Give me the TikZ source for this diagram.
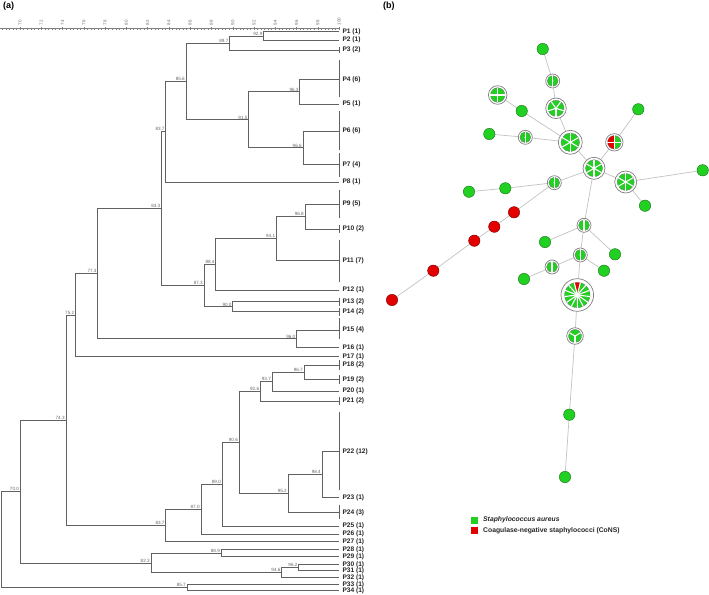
\documentclass[tikz,border=0pt]{standalone}
\usepackage{fontspec}
\setmainfont{Liberation Sans}
\usetikzlibrary{calc,backgrounds}
\definecolor{sagreen}{RGB}{34,208,34}
\definecolor{sared}{RGB}{226,0,0}
\definecolor{egrey}{RGB}{195,195,195}
\tikzset{
 dline/.style={draw=black!62, line width=0.55pt},
 axisline/.style={draw=black!50, line width=0.4pt},
 leaflab/.style={anchor=west, inner sep=0, font=\fontsize{6.6}{7}\selectfont\bfseries, text=black!85},
 vlab/.style={anchor=south east, inner sep=0.4pt, xshift=-0.6pt, font=\fontsize{4.6}{5}\selectfont, text=black!60},
 ticklab/.style={rotate=90, anchor=west, inner sep=0, font=\fontsize{4.5}{5}\selectfont, text=black!55},
 panellab/.style={anchor=north west, inner sep=0, font=\fontsize{9}{10}\selectfont\bfseries},
 gdot/.style={circle, fill=sagreen, draw=sagreen!55!black, line width=0.4pt, minimum size=11.4pt, inner sep=0},
 rdot/.style={circle, fill=sared, draw=sared!55!black, line width=0.4pt, minimum size=11.4pt, inner sep=0},
 pieouter/.style={circle, fill=white, draw=black!50, line width=0.7pt, inner sep=0},
 edgeline/.style={draw=egrey, line width=0.7pt},
 legsq/.style={minimum size=7pt, inner sep=0},
 legtxt/.style={anchor=west, inner sep=0, font=\fontsize{6.8}{7}\selectfont\bfseries, text=black!85},
}
\newcommand\pleaf[3]{\coordinate (L#1) at (339,#2); \node[leaflab] (t#1) at (342.3,#2) {P#1 (#3)};}
\newcommand\grpbar[2]{\draw[dline] (339,#1) -- (339,#2);}
\newcommand\pjoin[5]{%
 \coordinate (m#1) at ($(#3)!0.5!(#4)$);
 \coordinate (x#1) at ({339-(100-#2)*10.63},0);
 \coordinate (#1) at (x#1 |- m#1);
 \draw[dline] (#3) -- (#3 -| #1) -- (#4 -| #1) -- (#4);
 \node[vlab] (v#1) at (#1) {#5};}
\newcommand\pienode[7]{%
 \node[pieouter, minimum size=#4*2pt] (#1) at (#2,#3) {};
 \foreach \k in {1,...,#5}{%
   \pgfmathsetmacro\aa{#7+(\k-1)*360/#5}%
   \pgfmathsetmacro\ab{#7+\k*360/#5}%
   \ifnum\k>#6 \def\pc{sagreen}\else\def\pc{sared}\fi
   \filldraw[fill=\pc, draw=black!55, line width=0.3pt] (#2,#3) -- ++(\aa:#4*0.78) arc[start angle=\aa, end angle=\ab, radius=#4*0.78] -- cycle;
 }
 \foreach \k in {1,...,#5}{\draw[white, line width=1.1pt] (#2,#3) -- ++({#7+(\k-1)*360/#5}:#4*0.8);}
 \fill[white] (#2,#3) circle[radius=#4*0.12];
}
\begin{document}
\begin{tikzpicture}[x=1pt,y=-1pt]
\useasboundingbox (0,0) rectangle (709,594);
% ---------- panel (a) ----------
\node[panellab] (pa) at (3,1.5) {(a)};
\draw[axisline] (0,28.3) -- (339,28.3);
\foreach \k in {-5,...,90}{\draw[axisline] ({339-(30-\k/3)*10.63},28.3) -- ++(0,1.4);}
\foreach \v in {70,72,...,100}{%
  \draw[axisline] ({339-(100-\v)*10.63},26.9) -- ++(0,3);
  \node[ticklab] (tk\v) at ({339-(100-\v)*10.63},25.3) {\v};}
\pleaf{1}{31.7}{1}
\pleaf{2}{40}{1}
\pleaf{3}{50}{2}
\pleaf{4}{79.3}{6}
\pleaf{5}{104}{1}
\pleaf{6}{131}{6}
\pleaf{7}{164.3}{4}
\pleaf{8}{182}{1}
\pleaf{9}{204}{5}
\pleaf{10}{229}{2}
\pleaf{11}{260.7}{7}
\pleaf{12}{290}{1}
\pleaf{13}{301.7}{2}
\pleaf{14}{311.7}{2}
\pleaf{15}{330}{4}
\pleaf{16}{347.3}{1}
\pleaf{17}{356.7}{1}
\pleaf{18}{365}{2}
\pleaf{19}{379.3}{2}
\pleaf{20}{391}{1}
\pleaf{21}{401}{2}
\pleaf{22}{451.7}{12}
\pleaf{23}{497.3}{1}
\pleaf{24}{512.3}{3}
\pleaf{25}{526}{1}
\pleaf{26}{534}{1}
\pleaf{27}{541.7}{1}
\pleaf{28}{549.3}{1}
\pleaf{29}{556.7}{1}
\pleaf{30}{564.3}{1}
\pleaf{31}{570.7}{1}
\pleaf{32}{577.7}{1}
\pleaf{33}{584.3}{1}
\pleaf{34}{590.7}{1}
\grpbar{46.7}{53.3}
\grpbar{60}{96.7}
\grpbar{111}{150}
\grpbar{153}{176.7}
\grpbar{190}{218}
\grpbar{225}{232.7}
\grpbar{240}{281.7}
\grpbar{297.5}{305.5}
\grpbar{307.5}{315.5}
\grpbar{318}{339}
\grpbar{360}{370}
\grpbar{375}{383.5}
\grpbar{396.7}{405}
\grpbar{411.7}{490}
\grpbar{505}{519}
\pjoin{j929}{92.9}{L1}{L2}{92.9}
\pjoin{j897}{89.7}{j929}{L3}{89.7}
\pjoin{j963}{96.3}{L4}{L5}{96.3}
\pjoin{j966}{96.6}{L6}{L7}{96.6}
\pjoin{j915}{91.5}{j963}{j966}{91.5}
\pjoin{j856}{85.6}{j897}{j915}{85.6}
\pjoin{j837a}{83.7}{j856}{L8}{83.7}
\pjoin{j968}{96.8}{L9}{L10}{96.8}
\pjoin{j941}{94.1}{j968}{L11}{94.1}
\pjoin{j884}{88.4}{j941}{L12}{88.4}
\pjoin{j900}{90.0}{L13}{L14}{90.0}
\pjoin{j873}{87.3}{j884}{j900}{87.3}
\pjoin{j833}{83.3}{j837a}{j873}{83.3}
\pjoin{j960}{96.0}{L15}{L16}{96.0}
\pjoin{j773}{77.3}{j833}{j960}{77.3}
\pjoin{j752}{75.2}{j773}{L17}{75.2}
\pjoin{j967}{96.7}{L18}{L19}{96.7}
\pjoin{j937}{93.7}{j967}{L20}{93.7}
\pjoin{j926}{92.6}{j937}{L21}{92.6}
\pjoin{j984}{98.4}{L22}{L23}{98.4}
\pjoin{j952}{95.2}{j984}{L24}{95.2}
\pjoin{j906}{90.6}{j926}{j952}{90.6}
\pjoin{j890}{89.0}{j906}{L25}{89.0}
\pjoin{j870}{87.0}{j890}{L26}{87.0}
\pjoin{j837b}{83.7}{j870}{L27}{83.7}
\pjoin{j743}{74.3}{j752}{j837b}{74.3}
\pjoin{j889}{88.9}{L28}{L29}{88.9}
\pjoin{j962}{96.2}{L30}{L31}{96.2}
\pjoin{j946}{94.6}{j962}{L32}{94.6}
\pjoin{j823}{82.3}{j889}{j946}{82.3}
\pjoin{j700}{70.0}{j743}{j823}{70.0}
\pjoin{j857}{85.7}{L33}{L34}{85.7}
\pjoin{jroot}{68.2}{j700}{j857}{}
% ---------- panel (b) ----------
\node[panellab] (pb) at (383,1.5) {(b)};
\node[gdot] (g1) at (542.7,49) {};
\pienode{pA}{552.7}{81}{7}{2}{0}{90}
\pienode{pB}{556}{108.3}{10.3}{5}{0}{90}
\pienode{pC}{497.7}{95}{9.3}{4}{0}{0}
\node[gdot] (g2) at (521.7,111) {};
\node[gdot] (g3) at (638.3,109.3) {};
\node[gdot] (g4) at (489.3,134) {};
\pienode{pD}{525.3}{137.3}{7}{2}{0}{90}
\pienode{pE}{570.3}{142.3}{12}{6}{0}{90}
\pienode{pF}{614.3}{142.3}{8.7}{4}{2}{90}
\pienode{hub}{594}{168.3}{11}{6}{0}{90}
\pienode{pG}{625.7}{182}{11}{6}{0}{90}
\node[gdot] (g5) at (702.7,170.3) {};
\node[gdot] (g6) at (469,191.7) {};
\node[gdot] (g7) at (505.3,188.3) {};
\pienode{pH}{554.3}{182.7}{7}{2}{0}{90}
\node[gdot] (g8) at (645,205.7) {};
\node[rdot] (r1) at (514,212.3) {};
\node[rdot] (r2) at (494.3,226.7) {};
\node[rdot] (r3) at (474.3,240.7) {};
\node[rdot] (r4) at (433.3,270.7) {};
\node[rdot] (r5) at (392,300) {};
\pienode{pI}{584}{225.3}{7}{2}{0}{90}
\node[gdot] (g9) at (545,242) {};
\node[gdot] (g10) at (615,254.3) {};
\pienode{pJ}{580.3}{255}{7}{2}{0}{90}
\pienode{pK}{552}{267}{7}{2}{0}{90}
\node[gdot] (g11) at (604,270.7) {};
\node[gdot] (g12) at (524,279) {};
\pienode{pL}{577.3}{295}{16.3}{13}{1}{256.15}
\pienode{pM}{575}{336}{8.3}{3}{0}{90}
\node[gdot] (g13) at (569.3,414.7) {};
\node[gdot] (g14) at (565,477) {};
% legend
\node[legsq, fill=sagreen] (lg) at (474.3,520) {};
\node[legtxt] (lgt) at (483,519.6) {\textit{Staphylococcus aureus}};
\node[legsq, fill=sared] (lr) at (474.3,530.7) {};
\node[legtxt] (lrt) at (483,530.6) {Coagulase-negative staphylococci (CoNS)};
\begin{scope}[on background layer]
\fill[white] (0,0) rectangle (709,594);
\foreach \a/\b in {g1/pA,pA/pB,pB/pE,pC/g2,g2/pE,g4/pD,pD/pE,pE/hub,hub/pF,pF/g3,hub/pG,pG/g5,pG/g8,hub/pH,pH/g7,g7/g6,pH/r1,r1/r2,r2/r3,r3/r4,r4/r5,hub/pI,pI/g9,pI/g10,pI/pJ,pJ/pK,pK/g12,pJ/g11,pJ/pL,pL/pM,pM/g13,g13/g14}
  {\draw[edgeline] (\a) -- (\b);}
\end{scope}
\end{tikzpicture}
\end{document}
